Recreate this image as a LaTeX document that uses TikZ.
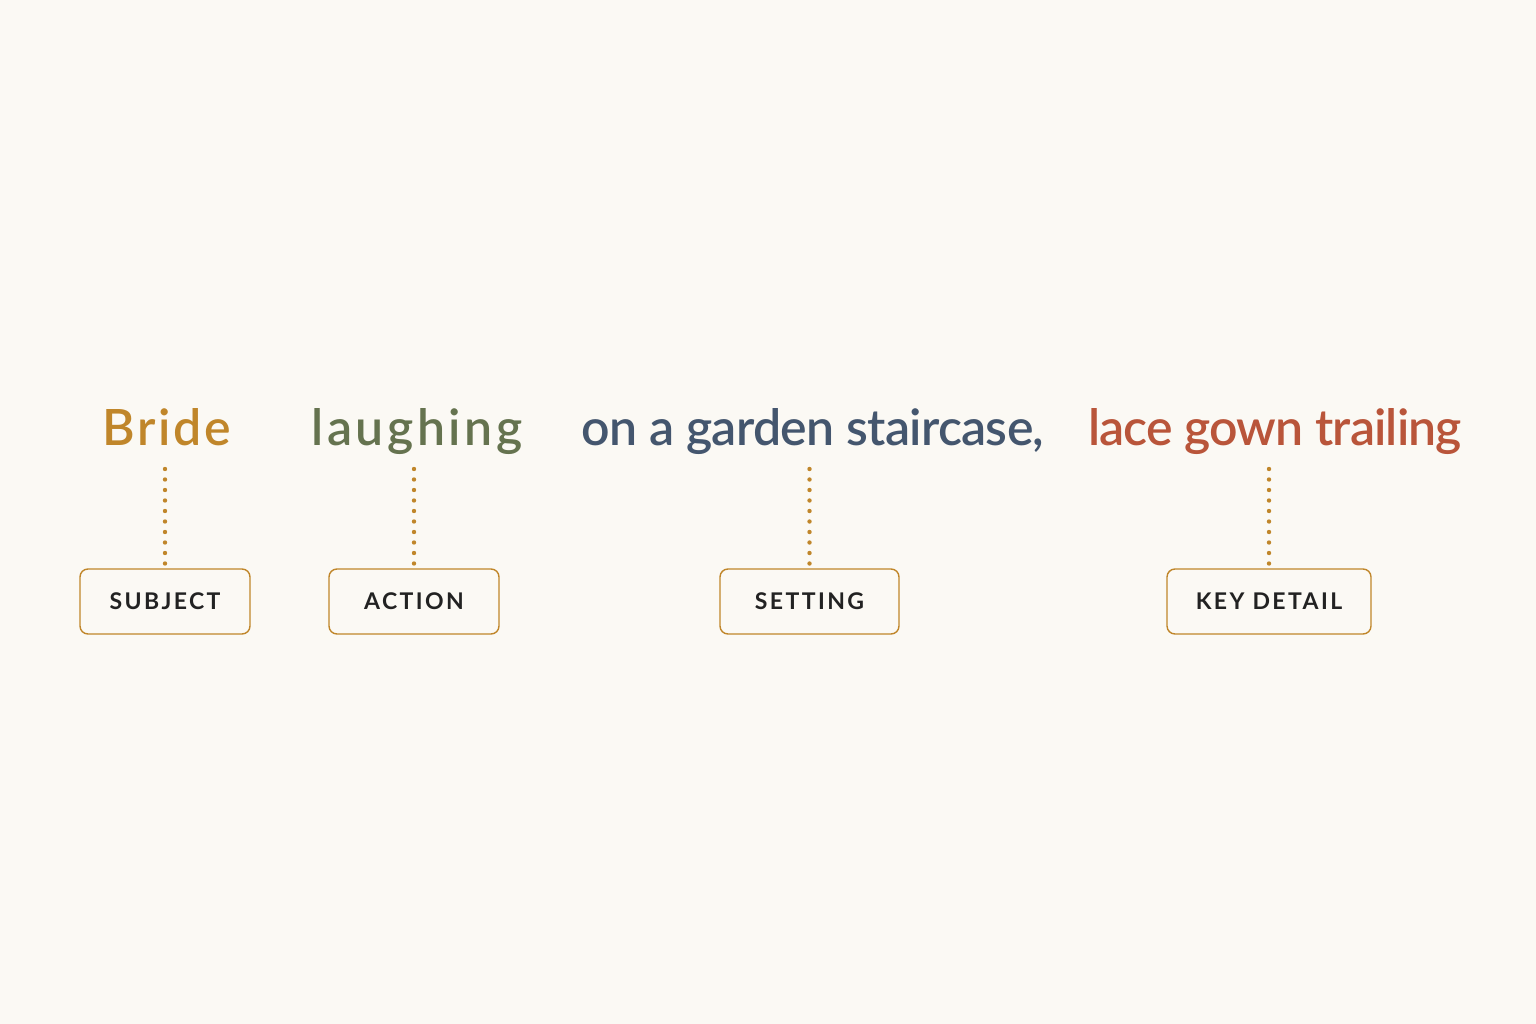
\documentclass[tikz,border=0pt]{standalone}
\usepackage{fontspec}
\setmainfont{Lato}
\newfontfamily\labelfont[LetterSpace=10.5]{Lato Bold}
\newfontfamily\wordfont{Lato Semibold}
\newfontfamily\wordwide[LetterSpace=5.6]{Lato Semibold}
\newfontfamily\wordwider[LetterSpace=7]{Lato Semibold}
\newfontfamily\wordtightA[LetterSpace=-1.4]{Lato Semibold}
\newfontfamily\wordtightB[LetterSpace=-1.7]{Lato Semibold}
\definecolor{bgc}{HTML}{FBF9F4}
\definecolor{goldc}{HTML}{C0862A}
\definecolor{olivec}{HTML}{65734F}
\definecolor{slatec}{HTML}{44566E}
\definecolor{rustc}{HTML}{B9553A}
\definecolor{inkc}{HTML}{222222}
\begin{document}
\begin{tikzpicture}[x=1pt,y=-1pt,
  word/.style={anchor=base,inner sep=0pt},
  tag/.style={draw=goldc,line width=1.4pt,rounded corners=8pt,minimum height=65pt,inner sep=0pt,
     font=\labelfont\fontsize{23}{26}\selectfont,text=inkc},
  dotline/.style={goldc,line width=4.4pt,line cap=round,dash pattern=on 0pt off 10.5pt}]
\fill[bgc] (0,0) rectangle (1536,1024);
\useasboundingbox (0,0) rectangle (1536,1024);
\node[word,text=goldc,font=\wordwide\fontsize{50}{60}\selectfont] (bride) at (167,445) {Bride};
\node[word,text=olivec,font=\wordwider\fontsize{50}{60}\selectfont] (laugh) at (417,445) {laughing};
\node[word,text=slatec,font=\wordtightA\fontsize{50}{60}\selectfont] (garden) at (813,445) {on a garden staircase,};
\node[word,text=rustc,font=\wordtightB\fontsize{50}{60}\selectfont] (lace) at (1275,445) {lace gown trailing};
\node[tag,minimum width=170pt] (subject) at (165,601.5) {SUBJECT};
\node[tag,minimum width=170pt] (action) at (414,601.5) {ACTION};
\node[tag,minimum width=179pt] (setting) at (809.5,601.5) {SETTING};
\node[tag,minimum width=204pt] (keyd) at (1269,601.5) {KEY DETAIL};
\draw[dotline] ([yshift=-24pt]bride.base -| subject.north) -- ([yshift=3.5pt]subject.north);
\draw[dotline] ([yshift=-24pt]laugh.base -| action.north) -- ([yshift=3.5pt]action.north);
\draw[dotline] ([yshift=-24pt]garden.base -| setting.north) -- ([yshift=3.5pt]setting.north);
\draw[dotline] ([yshift=-24pt]lace.base -| keyd.north) -- ([yshift=3.5pt]keyd.north);
\end{tikzpicture}
\end{document}
